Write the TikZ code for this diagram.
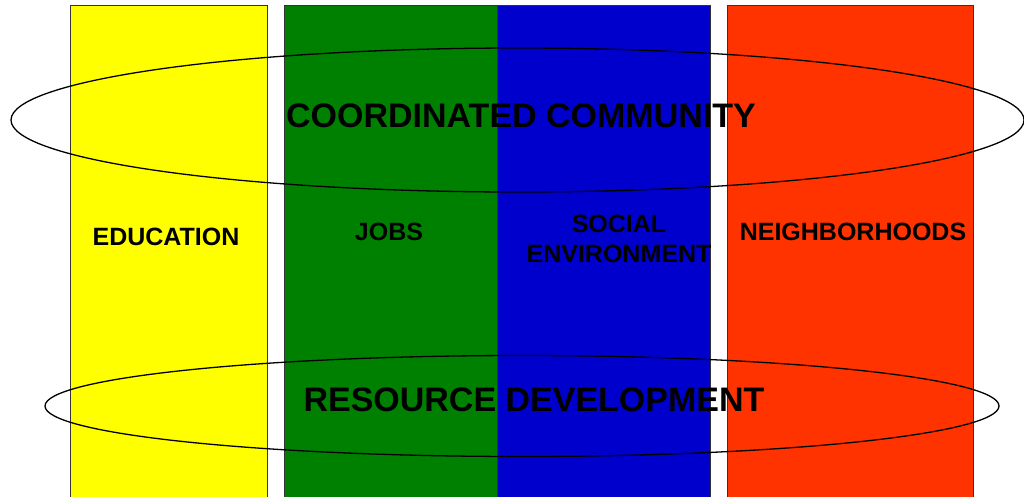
\documentclass[tikz,border=0pt]{standalone}
\usepackage{fontspec}
\setmainfont{Liberation Sans}
\definecolor{colyellow}{HTML}{FFFF00}
\definecolor{colgreen}{HTML}{008000}
\definecolor{colblue}{HTML}{0000CC}
\definecolor{colred}{HTML}{FF3300}
\tikzset{
  column/.style={draw=black!80, line width=0.9pt},
  ring/.style={draw=black, line width=1.3pt},
  bigtext/.style={font=\fontsize{34}{40}\selectfont\bfseries, anchor=base, inner sep=0pt},
  coltext/.style={font=\fontsize{25}{30}\selectfont\bfseries, anchor=base, inner sep=0pt, align=center},
}
\begin{document}
\begin{tikzpicture}[x=1pt,y=-1pt]
\useasboundingbox (0,0) rectangle (1024,496);
\fill[white] (0,0) rectangle (1024,496);
% columns
\draw[column, fill=colyellow] (70,5) rectangle (267,502);
\draw[column, fill=colgreen] (284,5) rectangle (497,502);
\draw[column, fill=colblue] (497,5) rectangle (710,502);
\draw[column, fill=colred] (727,5) rectangle (973,502);
% rings
\draw[ring] (517.5,120) ellipse [x radius=506.5, y radius=72];
\draw[ring] (522,406) ellipse [x radius=477, y radius=50.5];
% texts
\node[bigtext] (coord) at (521,127) {COORDINATED COMMUNITY};
\node[bigtext] (resource) at (534,411) {RESOURCE DEVELOPMENT};
\node[coltext] (edu) at (166,245) {EDUCATION};
\node[coltext] (jobs) at (389,240) {JOBS};
\node[coltext] (social) at (619,232) {SOCIAL};
\node[coltext] (env) at (619,262) {ENVIRONMENT};
\node[coltext] (neigh) at (853,240) {NEIGHBORHOODS};
\end{tikzpicture}
\end{document}
